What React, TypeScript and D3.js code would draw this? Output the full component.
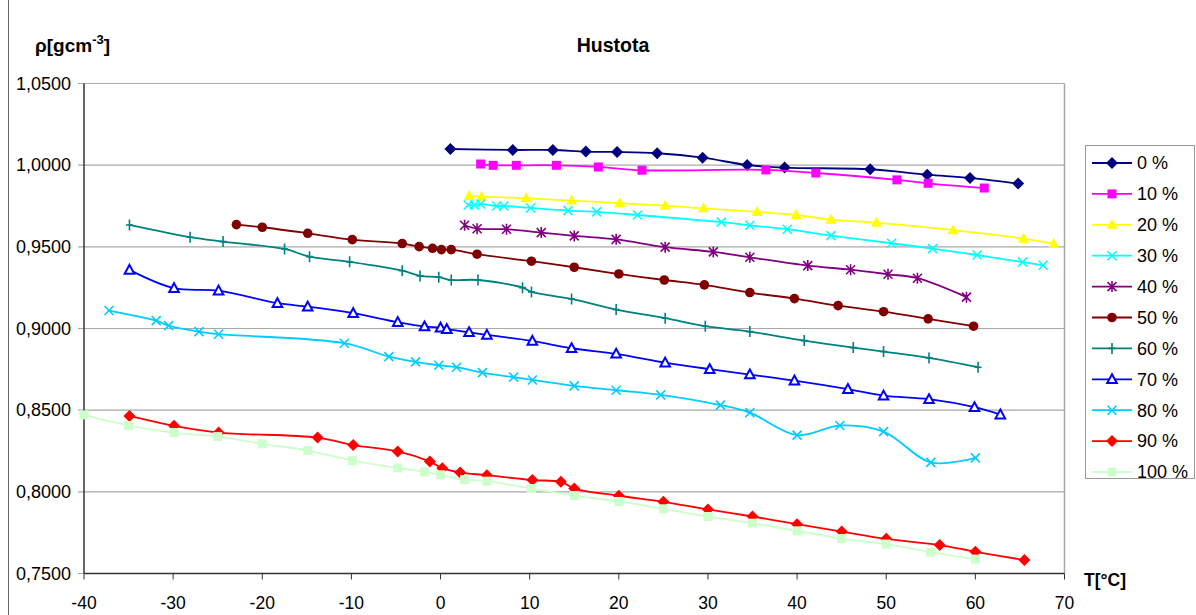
import * as d3 from 'd3';

const WIDTH = 1196;
const HEIGHT = 615;
const FONT = '"Liberation Sans", Arial, sans-serif';

const X_TICKS = [-40, -30, -20, -10, 0, 10, 20, 30, 40, 50, 60, 70];
const Y_TICKS = [0.75, 0.8, 0.85, 0.9, 0.95, 1.0, 1.05];

const T_0 = [1.1, 8.1, 12.6, 16.3, 19.8, 24.3, 29.4, 34.4, 38.6, 48.2, 54.6, 59.4, 64.8];
const RHO_0 = [1.0099, 1.0093, 1.0093, 1.0083, 1.0081, 1.0073, 1.0046, 1.0001, 0.9985, 0.9975, 0.9942, 0.9922, 0.9887];

const T_10 = [4.5, 5.9, 8.5, 13.0, 17.7, 22.6, 36.5, 42.1, 51.2, 54.7, 61.0];
const RHO_10 = [1.0007, 0.9999, 0.9999, 0.9999, 0.9989, 0.9969, 0.9971, 0.9952, 0.991, 0.9889, 0.986];

const T_20 = [3.2, 4.6, 9.6, 14.7, 20.1, 25.2, 29.5, 35.5, 39.9, 43.8, 48.9, 57.5, 65.4, 68.8];
const RHO_20 = [0.9811, 0.9807, 0.9797, 0.9783, 0.9767, 0.9752, 0.9736, 0.9714, 0.9695, 0.9666, 0.9648, 0.9602, 0.955, 0.9518];

const T_30 = [3.1, 3.8, 4.5, 6.3, 7.1, 10.1, 14.3, 17.5, 22.1, 31.5, 34.7, 38.9, 43.8, 50.6, 55.2, 60.2, 65.3, 67.6];
const RHO_30 = [0.9756, 0.9756, 0.9762, 0.975, 0.975, 0.9738, 0.9722, 0.9714, 0.9695, 0.9651, 0.9632, 0.9608, 0.9569, 0.9522, 0.9489, 0.945, 0.9406, 0.9387];

const T_40 = [2.7, 4.1, 7.4, 11.3, 15.0, 19.7, 25.2, 30.6, 34.7, 41.2, 46.0, 50.2, 53.5, 59.0];
const RHO_40 = [0.9632, 0.9611, 0.9608, 0.9587, 0.9567, 0.9546, 0.9498, 0.9469, 0.9436, 0.9385, 0.936, 0.9332, 0.9308, 0.9192];

const T_50 = [-22.9, -20.0, -14.9, -9.9, -4.3, -2.4, -0.9, 0.1, 1.2, 4.1, 10.2, 15.0, 20.0, 25.1, 29.6, 34.7, 39.7, 44.6, 49.7, 54.7, 59.8];
const RHO_50 = [0.9636, 0.962, 0.9583, 0.9544, 0.952, 0.9501, 0.9491, 0.9483, 0.9483, 0.9455, 0.9412, 0.9375, 0.9334, 0.9297, 0.9267, 0.922, 0.9183, 0.914, 0.9103, 0.9059, 0.9014];

const T_60 = [-34.9, -28.1, -24.4, -17.5, -14.7, -10.2, -4.3, -2.3, -0.2, 1.2, 4.2, 9.2, 10.2, 14.7, 19.7, 25.2, 29.7, 34.7, 40.8, 46.3, 49.7, 54.8, 60.3];
const RHO_60 = [0.9634, 0.9559, 0.9532, 0.9487, 0.944, 0.9408, 0.9354, 0.9322, 0.9314, 0.9297, 0.9297, 0.925, 0.9224, 0.9181, 0.9116, 0.9063, 0.9014, 0.8981, 0.8926, 0.8883, 0.8859, 0.882, 0.8763];

const T_70 = [-34.9, -29.9, -24.9, -18.3, -14.9, -9.8, -4.8, -1.8, 0.0, 0.7, 3.2, 5.2, 10.3, 14.7, 19.7, 25.2, 30.2, 34.7, 39.7, 45.7, 49.7, 54.8, 59.9, 62.8];
const RHO_70 = [0.9359, 0.9247, 0.9232, 0.9155, 0.9134, 0.9094, 0.9039, 0.9012, 0.9005, 0.8996, 0.8977, 0.8961, 0.8924, 0.8879, 0.8845, 0.8791, 0.8751, 0.8718, 0.8681, 0.8629, 0.8589, 0.8567, 0.8518, 0.8473];

const T_80 = [-37.2, -31.9, -30.5, -27.1, -24.9, -10.8, -5.8, -2.8, -0.2, 1.8, 4.7, 8.2, 10.3, 15.0, 19.7, 24.7, 31.4, 34.7, 40.0, 44.8, 49.7, 55.0, 60.0];
const RHO_80 = [0.911, 0.9048, 0.9018, 0.8981, 0.8965, 0.891, 0.8828, 0.8796, 0.8775, 0.8763, 0.873, 0.8702, 0.8685, 0.8649, 0.8622, 0.8594, 0.8531, 0.8485, 0.8347, 0.8406, 0.8369, 0.818, 0.8208];

const T_90 = [-34.9, -29.9, -24.9, -13.8, -9.8, -4.8, -1.2, 0.2, 2.2, 5.2, 10.3, 13.5, 15.0, 20.0, 25.0, 30.0, 35.0, 40.0, 45.0, 50.0, 56.0, 60.0, 65.5];
const RHO_90 = [0.8465, 0.8404, 0.8363, 0.8332, 0.8286, 0.8247, 0.8185, 0.8145, 0.8118, 0.8102, 0.8072, 0.8061, 0.802, 0.7976, 0.7939, 0.7892, 0.7849, 0.7802, 0.7757, 0.7712, 0.7674, 0.7633, 0.7582];

const T_100 = [-40.0, -35.0, -29.9, -25.0, -20.0, -14.9, -9.9, -4.8, -1.8, 0.0, 2.7, 5.2, 10.2, 15.0, 20.0, 25.0, 30.0, 35.0, 40.0, 45.0, 50.0, 55.0, 60.0];
const RHO_100 = [0.8471, 0.8406, 0.8363, 0.8338, 0.8294, 0.8253, 0.8191, 0.8146, 0.8122, 0.8104, 0.8075, 0.8065, 0.802, 0.7977, 0.7941, 0.7896, 0.7849, 0.7808, 0.7761, 0.7714, 0.768, 0.7631, 0.7588];

const SERIES_NAMES = ['0 %', '10 %', '20 %', '30 %', '40 %', '50 %', '60 %', '70 %', '80 %', '90 %', '100 %'];
const SERIES_T = [T_0, T_10, T_20, T_30, T_40, T_50, T_60, T_70, T_80, T_90, T_100];
const SERIES_RHO = [RHO_0, RHO_10, RHO_20, RHO_30, RHO_40, RHO_50, RHO_60, RHO_70, RHO_80, RHO_90, RHO_100];
const SERIES_COLORS = ['#000080', '#ff00ff', '#ffff00', '#00ffff', '#800080', '#800000', '#008080', '#0000ff', '#00ccff', '#ff0000', '#ccffcc'];
const SERIES_MARKERS = ['diamond', 'square', 'triangle', 'x', 'star', 'circle', 'plus', 'triangleOpen', 'x', 'diamond', 'square'];

const margin = { left: 84, right: 1064.5, top: 83.5, bottom: 573.5 };

const xScale = d3.scaleLinear().domain([-40, 70]).range([margin.left, margin.right]);
const yScale = d3.scaleLinear().domain([0.75, 1.05]).range([margin.bottom, margin.top]);

const Marker = ({ type, x, y, color }: { type: string; x: number; y: number; color: string }) => {
  const t = `translate(${x},${y})`;
  switch (type) {
    case 'diamond':
      return <path transform={t} d="M0,-6L6,0L0,6L-6,0Z" fill={color} />;
    case 'square':
      return <rect transform={t} x={-4.5} y={-4.5} width={9} height={9} fill={color} />;
    case 'triangle':
      return <path transform={t} d="M0,-6L5.5,4L-5.5,4Z" fill={color} />;
    case 'triangleOpen':
      return <path transform={t} d="M0,-5L4.8,3.8L-4.8,3.8Z" fill="#fff" stroke={color} strokeWidth={2} />;
    case 'circle':
      return <circle cx={x} cy={y} r={4.8} fill={color} />;
    case 'x':
      return <path transform={t} d="M-4.5,-4.5L4.5,4.5M-4.5,4.5L4.5,-4.5" stroke={color} strokeWidth={1.6} fill="none" />;
    case 'star':
      return <path transform={t} d="M-4.5,-4.5L4.5,4.5M-4.5,4.5L4.5,-4.5M0,-5.5L0,5.5" stroke={color} strokeWidth={1.6} fill="none" />;
    case 'plus':
      return <path transform={t} d="M0,-5.5L0,5.5M-3.5,0L3.5,0" stroke={color} strokeWidth={1.6} fill="none" />;
    default:
      return null;
  }
};

export default function App() {
  const line = d3
    .line<[number, number]>()
    .x((d) => xScale(d[0]))
    .y((d) => yScale(d[1]))
    .curve(d3.curveCatmullRom.alpha(0.5));

  const legendX = 1085;
  const legendY = 145;
  const legendStep = 30.9;

  return (
    <svg
      width={WIDTH}
      height={HEIGHT}
      style={{ position: 'absolute', left: 0, top: 0, background: '#fff' }}
      fontFamily={FONT}
    >
      <rect x={0} y={0} width={WIDTH} height={HEIGHT} fill="#fff" />
      <line x1={8.5} x2={8.5} y1={0} y2={HEIGHT} stroke="#666" />

      {/* gridlines */}
      {Y_TICKS.map((v) => (
        <line key={v} x1={margin.left - 6} x2={margin.right} y1={yScale(v)} y2={yScale(v)} stroke="#a8a8a8" strokeWidth={1.2} />
      ))}
      <line x1={margin.right} x2={margin.right} y1={margin.top} y2={margin.bottom} stroke="#a8a8a8" strokeWidth={1.5} />

      {/* axes */}
      <line x1={margin.left} x2={margin.left} y1={margin.top} y2={margin.bottom} stroke="#333" strokeWidth={1.5} />
      <line x1={margin.left} x2={margin.right} y1={margin.bottom} y2={margin.bottom} stroke="#333" strokeWidth={1.5} />
      {X_TICKS.map((v) => (
        <line key={v} x1={xScale(v)} x2={xScale(v)} y1={margin.bottom} y2={margin.bottom + 6} stroke="#333" />
      ))}

      {Y_TICKS.map((v) => (
        <text key={v} x={71} y={yScale(v) + 6.3} textAnchor="end" fontSize={18} fill="#000">
          {d3.format('.4f')(v).replace('.', ',')}
        </text>
      ))}
      {X_TICKS.map((v) => (
        <text key={v} x={xScale(v)} y={609} textAnchor="middle" fontSize={17.5} fill="#000">
          {v}
        </text>
      ))}

      {/* series */}
      {SERIES_NAMES.map((name, i) => {
        const pts: [number, number][] = SERIES_T[i].map((t, j) => [t, SERIES_RHO[i][j]]);
        return (
          <g key={name}>
            <path d={line(pts) ?? ''} fill="none" stroke={SERIES_COLORS[i]} strokeWidth={1.8} />
            {pts.map((p, j) => (
              <Marker key={j} type={SERIES_MARKERS[i]} x={xScale(p[0])} y={yScale(p[1])} color={SERIES_COLORS[i]} />
            ))}
          </g>
        );
      })}

      {/* titles */}
      <text x={613} y={52} textAnchor="middle" fontSize={19.5} fontWeight="bold">
        Hustota
      </text>
      <text x={35} y={52} fontSize={19} fontWeight="bold">
        ρ[gcm
        <tspan fontSize={13} dy={-8}>-3</tspan>
        <tspan dy={8}>]</tspan>
      </text>
      <text x={1084} y={586} fontSize={17.5} fontWeight="bold">
        T[°C]
      </text>

      {/* legend */}
      <rect x={legendX + 0.5} y={legendY + 0.5} width={109} height={333} fill="#fff" stroke="#999" />
      {SERIES_NAMES.map((name, i) => {
        const cy = legendY + 18 + i * legendStep;
        return (
          <g key={name}>
            <line x1={legendX + 7} x2={legendX + 47} y1={cy} y2={cy} stroke={SERIES_COLORS[i]} strokeWidth={1.8} />
            <Marker type={SERIES_MARKERS[i]} x={legendX + 27} y={cy} color={SERIES_COLORS[i]} />
            <text x={legendX + 52} y={cy + 6.3} fontSize={18}>
              {name}
            </text>
          </g>
        );
      })}
    </svg>
  );
}
